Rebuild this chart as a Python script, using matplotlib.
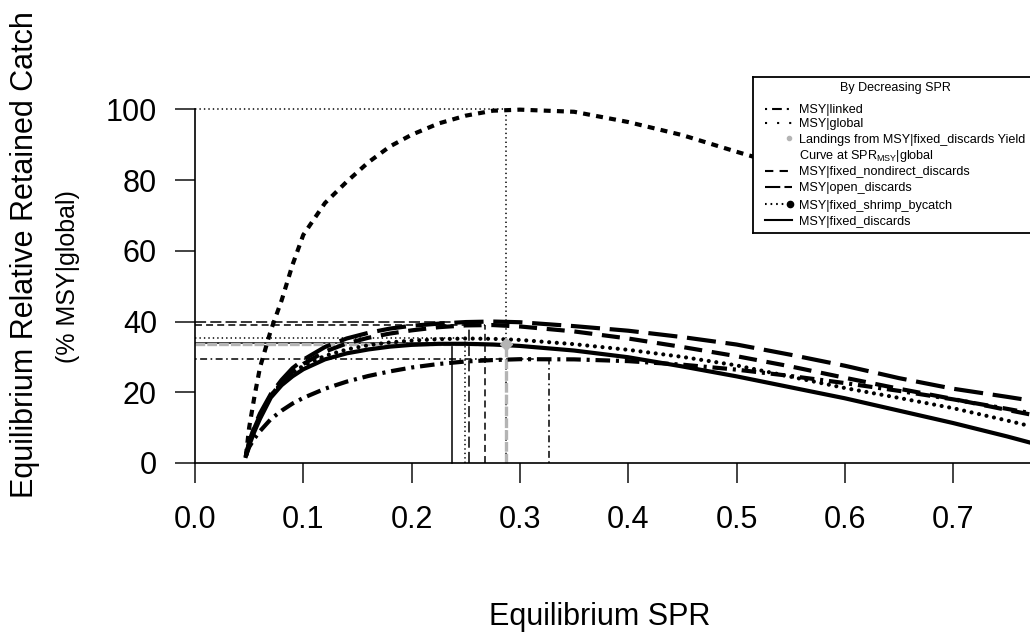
import matplotlib
matplotlib.use("Agg")
import matplotlib.pyplot as plt

plt.rcParams['font.family'] = ['Liberation Sans', 'DejaVu Sans']
plt.rcParams['mathtext.fontset'] = 'custom'
plt.rcParams['mathtext.rm'] = 'Liberation Sans'
plt.rcParams['mathtext.it'] = 'Liberation Sans:italic'
plt.rcParams['lines.scale_dashes'] = False

# ---------------- data ----------------
spr = [0.047, 0.05, 0.055, 0.06, 0.07, 0.08, 0.09, 0.10, 0.12, 0.14, 0.16, 0.18,
       0.20, 0.225, 0.25, 0.275, 0.30, 0.35, 0.40, 0.45, 0.50, 0.55, 0.60, 0.65,
       0.70, 0.75, 0.80]

msy_global = [2, 10, 19, 27, 37.5, 46, 56, 64.5, 73.5, 79.5, 85, 89.5,
              92.8, 96, 98.2, 99.6, 99.9, 99.3, 96.4, 92.7, 88, 83.5, 79, 75.5,
              72, 69, 66]
msy_linked = [2, 4.5, 7, 9, 12.4, 14.8, 16.8, 18.4, 21, 23, 24.6, 25.9,
              27, 28, 28.7, 29.1, 29.35, 29.3, 28.8, 27.8, 26.4, 24.6, 22.6, 20.4,
              18, 15.3, 12.5]
msy_nondirect = [2, 5.8, 10, 13.5, 19, 22.8, 25.8, 28, 31.5, 33.8, 35.4, 36.6,
                 37.5, 38.4, 38.9, 39.0, 38.6, 37.2, 35.2, 32.8, 30.2, 27.3, 24.1, 21,
                 18.1, 15, 12]
msy_open = [2, 6, 10.5, 14, 19.5, 23.5, 26.8, 29.2, 32.8, 35.2, 36.8, 38,
            38.8, 39.4, 39.85, 40.0, 39.8, 38.7, 37.4, 35.6, 33.5, 30.6, 27.5, 24.0,
            21.0, 18.7, 16.3]
msy_shrimp = [2, 5.5, 9.5, 13, 19, 22.8, 25.5, 27.5, 30.3, 32.1, 33.3, 34.1,
              34.6, 35.0, 35.2, 35.1, 34.8, 33.6, 32.0, 30.0, 27.6, 24.4, 21.2, 18.4,
              15.5, 12, 8.3]
msy_fixed = [2, 5, 9, 12.5, 18.5, 22, 24.5, 26.5, 29.3, 31, 32.1, 32.9,
             33.4, 33.7, 33.7, 33.5, 33.1, 31.8, 29.9, 27.3, 24.5, 21.4, 18.3, 14.8,
             11.3, 7.5, 3.4]

# SPR at MSY and the catch there, for each scenario
ref_names = ['linked', 'global', 'nondirect', 'open', 'shrimp', 'fixed']
ref_spr = [0.327, 0.287, 0.268, 0.253, 0.249, 0.237]
ref_catch = [29.4, 100.0, 39.0, 40.0, 35.2, 33.8]

landing_spr = 0.287
landing_catch = 33.6

x_ticks = [0.0, 0.1, 0.2, 0.3, 0.4, 0.5, 0.6, 0.7]
x_ticklabels = ['0.0', '0.1', '0.2', '0.3', '0.4', '0.5', '0.6', '0.7']
y_ticks = [0, 20, 40, 60, 80, 100]

legend_labels = ['MSY|linked', 'MSY|global',
                 'Landings from MSY|fixed_discards Yield',
                 'Curve at SPR$_{\\mathregular{MSY}}$|global',
                 'MSY|fixed_nondirect_discards', 'MSY|open_discards',
                 'MSY|fixed_shrimp_bycatch', 'MSY|fixed_discards']

# ---------------- styles ----------------
thick = {
    'linked': dict(dashes=(10.5, 4.2, 2.2, 4.2)),
    'global': dict(dashes=(5, 4.5)),
    'nondirect': dict(dashes=(13, 7)),
    'open': dict(dashes=(21, 7)),
    'shrimp': dict(dashes=(0.01, 5.5), dash_capstyle='round'),
    'fixed': dict(linestyle='-'),
}
thin = {
    'linked': dict(dashes=(1.2, 2.5, 5, 2.5)),
    'global': dict(dashes=(1, 2.2)),
    'nondirect': dict(dashes=(5, 3)),
    'open': dict(dashes=(8, 3)),
    'shrimp': dict(dashes=(1, 2.2)),
    'fixed': dict(linestyle='-'),
}
curves = {'linked': msy_linked, 'global': msy_global, 'nondirect': msy_nondirect,
          'open': msy_open, 'shrimp': msy_shrimp, 'fixed': msy_fixed}

W, H = 1030, 634
fig = plt.figure(figsize=(W / 100, H / 100), dpi=100)

# axes: x=0 at px195, 0.1 per 108.3px ; y=0 at px463, 3.537 px per unit
x0, y0, sx, sy = 195.0, 463.0, 1083.0, 3.537
xmin, xmax, ymin, ymax = 0.0, 0.8, -1.0, 102.0
ax = fig.add_axes([x0 / W, (H - (y0 - ymin * sy)) / H,
                   (xmax - xmin) * sx / W, (ymax - ymin) * sy / H])
ax.set_xlim(xmin, xmax)
ax.set_ylim(ymin, ymax)
for s in ['top', 'right']:
    ax.spines[s].set_visible(False)
ax.spines['left'].set_bounds(0, 100)
ax.spines['bottom'].set_position(('data', 0))
ax.spines['bottom'].set_bounds(0, 0.8)
for s in ['left', 'bottom']:
    ax.spines[s].set_linewidth(1.2)
ax.set_xticks(x_ticks)
ax.set_xticklabels(x_ticklabels)
ax.set_yticks(y_ticks)
ax.tick_params(axis='both', length=14.4, width=1.2, labelsize=22, color='#222222')
ax.tick_params(axis='x', pad=16)
ax.tick_params(axis='y', pad=13)
ax.patch.set_alpha(0)

# reference lines (thin)
for name, xs, yc in zip(ref_names, ref_spr, ref_catch):
    ax.plot([0, xs], [yc, yc], color='black', lw=1.1, **thin[name])
    ax.plot([xs, xs], [0, yc], color='black', lw=1.1, **thin[name])

# landings reference in gray
gray = '#b4b4b4'
ax.plot([0, landing_spr], [landing_catch, landing_catch], color=gray, lw=2.4,
        dashes=(7, 1.5))
ax.plot([landing_spr, landing_spr], [0, landing_catch], color=gray, lw=2.4,
        dashes=(7, 1.5))
ax.plot([landing_spr], [landing_catch], marker='D', ms=6.5, color=gray,
        markeredgecolor=gray, zorder=5)

# yield curves (thick)
for name in ['global', 'linked', 'open', 'nondirect', 'shrimp', 'fixed']:
    ax.plot(spr, curves[name], color='black', lw=3.0, **thick[name])

# axis labels
fig.text(600 / W, 1 - 617 / H, 'Equilibrium SPR', ha='center', va='center', fontsize=22)
fig.text(25 / W, 1 - 255 / H, 'Equilibrium Relative Retained Catch', rotation=90,
         ha='center', va='center', fontsize=22)
fig.text(68 / W, 1 - 277 / H, '(% MSY|global)', rotation=90,
         ha='center', va='center', fontsize=18)

# ---------------- legend box (pixel coordinates) ----------------
L, R, T, B = 752.5, 1100, 77, 233
lax = fig.add_axes([L / W, (H - B) / H, (R - L) / W, (B - T) / H])
lax.set_xlim(L, R)
lax.set_ylim(B, T)
lax.set_xticks([])
lax.set_yticks([])
lax.set_facecolor('white')
for s in lax.spines.values():
    s.set_linewidth(1.3)

hx0, hx1, tx = 765, 792, 799
fs = 9.1
lax.text(895, 88, 'By Decreasing SPR', ha='center', va='center', fontsize=9)
rows = [109, 123, 138, 154, 171, 187, 204, 220]
hand = {
    109: dict(dashes=(1.5, 3.6, 7, 3.6)),
    123: dict(dashes=(1.5, 7.2)),
    171: dict(dashes=(6, 4.5)),
    187: dict(dashes=(11, 3)),
    204: dict(dashes=(1.2, 2.8)),
    220: dict(linestyle='-'),
}
for yr, spec in hand.items():
    lax.plot([hx0, hx1], [yr, yr], color='black', lw=1.5, **spec)
lax.plot([789], [138], marker='o', ms=3, color=gray, markeredgecolor=gray)
lax.plot([790], [204], marker='o', ms=4.5, color='black')
for yr, lab in zip(rows, legend_labels):
    lax.text(tx, yr, lab, ha='left', va='center_baseline', fontsize=fs)

fig.savefig('out.png', dpi=100)
